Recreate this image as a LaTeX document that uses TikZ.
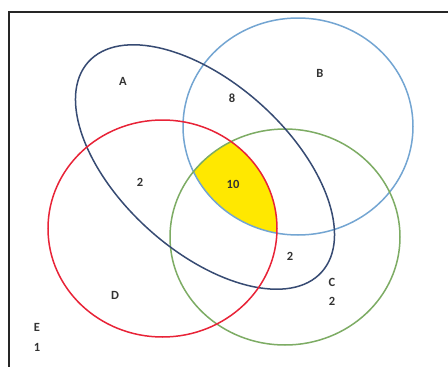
\documentclass[tikz,border=0pt]{standalone}
\usepackage{fontspec}
\setmainfont{Carlito}
\definecolor{cRed}{RGB}{232,35,55}
\definecolor{cBlue}{RGB}{115,165,210}
\definecolor{cGreen}{RGB}{125,172,100}
\definecolor{cNavy}{RGB}{55,75,115}
\definecolor{cYellow}{RGB}{255,232,0}
\begin{document}
\begin{tikzpicture}[x=1pt,y=-1pt,
  setline/.style={line width=1.5pt},
  lbl/.style={font=\fontsize{12.5}{13}\selectfont\bfseries, text=black!80, inner sep=0pt}]
\useasboundingbox (0,0) rectangle (448,367);
\fill[white] (0,0) rectangle (448,367);
\draw[line width=2pt, black!85] (9,367) -- (9,12) -- (448,12);
% yellow region: A, B, C and D overlap
\begin{scope}
  \clip (162.5,228.5) ellipse [x radius=114.5, y radius=108.5];
  \clip (298,126.5) ellipse [x radius=115, y radius=108.5];
  \clip (285,237) ellipse [x radius=115, y radius=108];
  \clip[rotate around={-42:(205,167)}] (205,167) ellipse [x radius=157, y radius=84];
  \fill[cYellow] (0,0) rectangle (448,367);
\end{scope}
\draw[setline, cBlue] (298,126.5) ellipse [x radius=115, y radius=108.5];
\draw[setline, cGreen] (285,237) ellipse [x radius=115, y radius=108];
\draw[setline, cNavy, rotate around={-42:(205,167)}] (205,167) ellipse [x radius=157, y radius=84];
\draw[setline, cRed] (162.5,228.5) ellipse [x radius=114.5, y radius=108.5];
\node[lbl] (lA) at (123,81) {A};
\node[lbl] (lB) at (320,73) {B};
\node[lbl] (l8) at (232,98) {8};
\node[lbl] (l2a) at (140,182) {2};
\node[lbl] (l10) at (233,184) {10};
\node[lbl] (l2b) at (290,256) {2};
\node[lbl] (lC) at (332,282) {C};
\node[lbl] (l2c) at (332,301) {2};
\node[lbl] (lD) at (115,295) {D};
\node[lbl] (lE) at (37,327) {E};
\node[lbl] (l1) at (37,347) {1};
\end{tikzpicture}
\end{document}
